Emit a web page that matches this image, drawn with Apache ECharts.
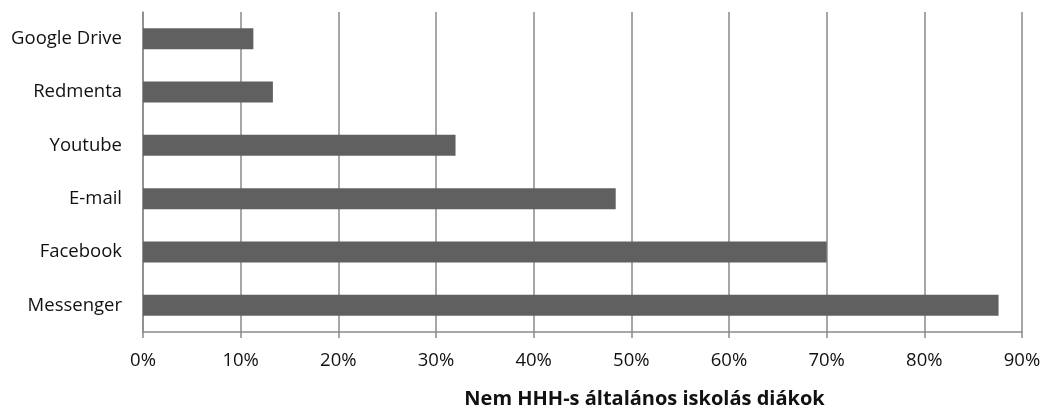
<!DOCTYPE html>
<html>
<head>
<meta charset="utf-8">
<script src="https://cdn.jsdelivr.net/npm/echarts@6/dist/echarts.min.js"></script>
<style>
  html, body { margin: 0; padding: 0; background: #fff; }
  #chart { width: 1043px; height: 412px; }
</style>
</head>
<body>
<div id="chart"></div>
<script>
// Platforms used by the students (share of respondents, %)
const categories = ['Google Drive', 'Redmenta', 'Youtube', 'E-mail', 'Facebook', 'Messenger'];
const shares = [11.3, 13.3, 32.0, 48.4, 70.0, 87.6];
const axisTitle = 'Nem HHH-s általános iskolás diákok';
const axisMax = 90;
const axisStep = 10;

const FONT = '"Open Sans", "Noto Sans", sans-serif';
const GRID = '#8a8a8a';

const chart = echarts.init(document.getElementById('chart'), null, { renderer: 'canvas' });
chart.setOption({
  animation: false,
  backgroundColor: '#ffffff',
  grid: {
    left: 143, right: 21, top: 12, bottom: 80,
    containLabel: false, outerBoundsMode: 'none'
  },
  xAxis: {
    type: 'value',
    min: 0,
    max: axisMax,
    interval: axisStep,
    name: axisTitle,
    nameLocation: 'middle',
    nameGap: 57,
    nameTextStyle: {
      fontFamily: FONT, fontSize: 20, fontWeight: 'bold', color: '#111',
      padding: [0, 0, 0, 124]
    },
    axisLine: { show: true, lineStyle: { color: GRID, width: 1.5 } },
    axisTick: { show: true, length: 6, lineStyle: { color: GRID, width: 1.5 } },
    axisLabel: {
      formatter: '{value}%', margin: 19,
      fontFamily: FONT, fontSize: 18.5, color: '#111'
    },
    splitLine: { show: true, lineStyle: { color: GRID, width: 1.5 } }
  },
  yAxis: {
    type: 'category',
    data: categories,
    inverse: true,
    axisLine: { show: true, lineStyle: { color: GRID, width: 1.5 } },
    axisTick: { show: false },
    axisLabel: { margin: 21, fontFamily: FONT, fontSize: 18.5, color: '#111' },
    splitLine: { show: false }
  },
  series: [{
    type: 'bar',
    data: shares,
    barWidth: 21,
    itemStyle: { color: '#606060' },
    silent: true
  }]
});
</script>
</body>
</html>
